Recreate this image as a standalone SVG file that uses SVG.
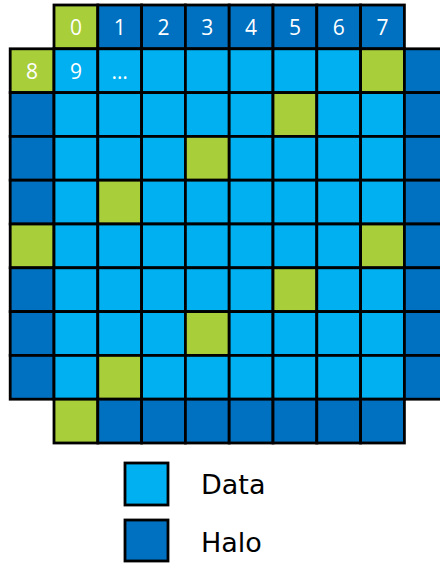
<svg xmlns="http://www.w3.org/2000/svg" width="440" height="563" viewBox="0 0 440 563">
<style>
.d{fill:#00B0F0;stroke:#000;stroke-width:2.8}
.h{fill:#0070C0;stroke:#000;stroke-width:2.8}
.g{fill:#A8CE3A;stroke:#000;stroke-width:2.8}
.t{fill:#fff;font-family:"Open Sans","DejaVu Sans",sans-serif;font-size:21px;text-anchor:middle}
.l{fill:#000;font-family:"DejaVu Sans",Verdana,sans-serif;font-size:27px}
</style>
<rect width="440" height="563" fill="#fff"/>
<g id="grid">
<g id="r0">
<rect class="g" x="54" y="5" width="43.8" height="43.8"/>
<rect class="h" x="97.8" y="5" width="43.8" height="43.8"/>
<rect class="h" x="141.6" y="5" width="43.8" height="43.8"/>
<rect class="h" x="185.4" y="5" width="43.8" height="43.8"/>
<rect class="h" x="229.2" y="5" width="43.8" height="43.8"/>
<rect class="h" x="273" y="5" width="43.8" height="43.8"/>
<rect class="h" x="316.8" y="5" width="43.8" height="43.8"/>
<rect class="h" x="360.6" y="5" width="43.8" height="43.8"/>
</g>
<g id="r1">
<rect class="g" x="10.2" y="48.8" width="43.8" height="43.8"/>
<rect class="d" x="54" y="48.8" width="43.8" height="43.8"/>
<rect class="d" x="97.8" y="48.8" width="43.8" height="43.8"/>
<rect class="d" x="141.6" y="48.8" width="43.8" height="43.8"/>
<rect class="d" x="185.4" y="48.8" width="43.8" height="43.8"/>
<rect class="d" x="229.2" y="48.8" width="43.8" height="43.8"/>
<rect class="d" x="273" y="48.8" width="43.8" height="43.8"/>
<rect class="d" x="316.8" y="48.8" width="43.8" height="43.8"/>
<rect class="g" x="360.6" y="48.8" width="43.8" height="43.8"/>
<rect class="h" x="404.4" y="48.8" width="43.8" height="43.8"/>
</g>
<g id="r2">
<rect class="h" x="10.2" y="92.6" width="43.8" height="43.8"/>
<rect class="d" x="54" y="92.6" width="43.8" height="43.8"/>
<rect class="d" x="97.8" y="92.6" width="43.8" height="43.8"/>
<rect class="d" x="141.6" y="92.6" width="43.8" height="43.8"/>
<rect class="d" x="185.4" y="92.6" width="43.8" height="43.8"/>
<rect class="d" x="229.2" y="92.6" width="43.8" height="43.8"/>
<rect class="g" x="273" y="92.6" width="43.8" height="43.8"/>
<rect class="d" x="316.8" y="92.6" width="43.8" height="43.8"/>
<rect class="d" x="360.6" y="92.6" width="43.8" height="43.8"/>
<rect class="h" x="404.4" y="92.6" width="43.8" height="43.8"/>
</g>
<g id="r3">
<rect class="h" x="10.2" y="136.4" width="43.8" height="43.8"/>
<rect class="d" x="54" y="136.4" width="43.8" height="43.8"/>
<rect class="d" x="97.8" y="136.4" width="43.8" height="43.8"/>
<rect class="d" x="141.6" y="136.4" width="43.8" height="43.8"/>
<rect class="g" x="185.4" y="136.4" width="43.8" height="43.8"/>
<rect class="d" x="229.2" y="136.4" width="43.8" height="43.8"/>
<rect class="d" x="273" y="136.4" width="43.8" height="43.8"/>
<rect class="d" x="316.8" y="136.4" width="43.8" height="43.8"/>
<rect class="d" x="360.6" y="136.4" width="43.8" height="43.8"/>
<rect class="h" x="404.4" y="136.4" width="43.8" height="43.8"/>
</g>
<g id="r4">
<rect class="h" x="10.2" y="180.2" width="43.8" height="43.8"/>
<rect class="d" x="54" y="180.2" width="43.8" height="43.8"/>
<rect class="g" x="97.8" y="180.2" width="43.8" height="43.8"/>
<rect class="d" x="141.6" y="180.2" width="43.8" height="43.8"/>
<rect class="d" x="185.4" y="180.2" width="43.8" height="43.8"/>
<rect class="d" x="229.2" y="180.2" width="43.8" height="43.8"/>
<rect class="d" x="273" y="180.2" width="43.8" height="43.8"/>
<rect class="d" x="316.8" y="180.2" width="43.8" height="43.8"/>
<rect class="d" x="360.6" y="180.2" width="43.8" height="43.8"/>
<rect class="h" x="404.4" y="180.2" width="43.8" height="43.8"/>
</g>
<g id="r5">
<rect class="g" x="10.2" y="224" width="43.8" height="43.8"/>
<rect class="d" x="54" y="224" width="43.8" height="43.8"/>
<rect class="d" x="97.8" y="224" width="43.8" height="43.8"/>
<rect class="d" x="141.6" y="224" width="43.8" height="43.8"/>
<rect class="d" x="185.4" y="224" width="43.8" height="43.8"/>
<rect class="d" x="229.2" y="224" width="43.8" height="43.8"/>
<rect class="d" x="273" y="224" width="43.8" height="43.8"/>
<rect class="d" x="316.8" y="224" width="43.8" height="43.8"/>
<rect class="g" x="360.6" y="224" width="43.8" height="43.8"/>
<rect class="h" x="404.4" y="224" width="43.8" height="43.8"/>
</g>
<g id="r6">
<rect class="h" x="10.2" y="267.8" width="43.8" height="43.8"/>
<rect class="d" x="54" y="267.8" width="43.8" height="43.8"/>
<rect class="d" x="97.8" y="267.8" width="43.8" height="43.8"/>
<rect class="d" x="141.6" y="267.8" width="43.8" height="43.8"/>
<rect class="d" x="185.4" y="267.8" width="43.8" height="43.8"/>
<rect class="d" x="229.2" y="267.8" width="43.8" height="43.8"/>
<rect class="g" x="273" y="267.8" width="43.8" height="43.8"/>
<rect class="d" x="316.8" y="267.8" width="43.8" height="43.8"/>
<rect class="d" x="360.6" y="267.8" width="43.8" height="43.8"/>
<rect class="h" x="404.4" y="267.8" width="43.8" height="43.8"/>
</g>
<g id="r7">
<rect class="h" x="10.2" y="311.6" width="43.8" height="43.8"/>
<rect class="d" x="54" y="311.6" width="43.8" height="43.8"/>
<rect class="d" x="97.8" y="311.6" width="43.8" height="43.8"/>
<rect class="d" x="141.6" y="311.6" width="43.8" height="43.8"/>
<rect class="g" x="185.4" y="311.6" width="43.8" height="43.8"/>
<rect class="d" x="229.2" y="311.6" width="43.8" height="43.8"/>
<rect class="d" x="273" y="311.6" width="43.8" height="43.8"/>
<rect class="d" x="316.8" y="311.6" width="43.8" height="43.8"/>
<rect class="d" x="360.6" y="311.6" width="43.8" height="43.8"/>
<rect class="h" x="404.4" y="311.6" width="43.8" height="43.8"/>
</g>
<g id="r8">
<rect class="h" x="10.2" y="355.4" width="43.8" height="43.8"/>
<rect class="d" x="54" y="355.4" width="43.8" height="43.8"/>
<rect class="g" x="97.8" y="355.4" width="43.8" height="43.8"/>
<rect class="d" x="141.6" y="355.4" width="43.8" height="43.8"/>
<rect class="d" x="185.4" y="355.4" width="43.8" height="43.8"/>
<rect class="d" x="229.2" y="355.4" width="43.8" height="43.8"/>
<rect class="d" x="273" y="355.4" width="43.8" height="43.8"/>
<rect class="d" x="316.8" y="355.4" width="43.8" height="43.8"/>
<rect class="d" x="360.6" y="355.4" width="43.8" height="43.8"/>
<rect class="h" x="404.4" y="355.4" width="43.8" height="43.8"/>
</g>
<g id="r9">
<rect class="g" x="54" y="399.2" width="43.8" height="43.8"/>
<rect class="h" x="97.8" y="399.2" width="43.8" height="43.8"/>
<rect class="h" x="141.6" y="399.2" width="43.8" height="43.8"/>
<rect class="h" x="185.4" y="399.2" width="43.8" height="43.8"/>
<rect class="h" x="229.2" y="399.2" width="43.8" height="43.8"/>
<rect class="h" x="273" y="399.2" width="43.8" height="43.8"/>
<rect class="h" x="316.8" y="399.2" width="43.8" height="43.8"/>
<rect class="h" x="360.6" y="399.2" width="43.8" height="43.8"/>
</g>
</g>
<g id="labels">
<text class="t" x="75.9" y="35">0</text>
<text class="t" x="119.7" y="35">1</text>
<text class="t" x="163.5" y="35">2</text>
<text class="t" x="207.3" y="35">3</text>
<text class="t" x="251.1" y="35">4</text>
<text class="t" x="294.9" y="35">5</text>
<text class="t" x="338.7" y="35">6</text>
<text class="t" x="382.5" y="35">7</text>
<text class="t" x="32.1" y="79">8</text>
<text class="t" x="75.9" y="79">9</text>
<text class="t" x="119.7" y="79">…</text>
</g>
<g id="legend-data">
<rect class="d" x="125" y="463" width="43" height="42"/>
<text class="l" x="201" y="494">Data</text>
</g>
<g id="legend-halo">
<rect class="h" x="125" y="520" width="43" height="41"/>
<text class="l" x="201" y="552">Halo</text>
</g>
</svg>
